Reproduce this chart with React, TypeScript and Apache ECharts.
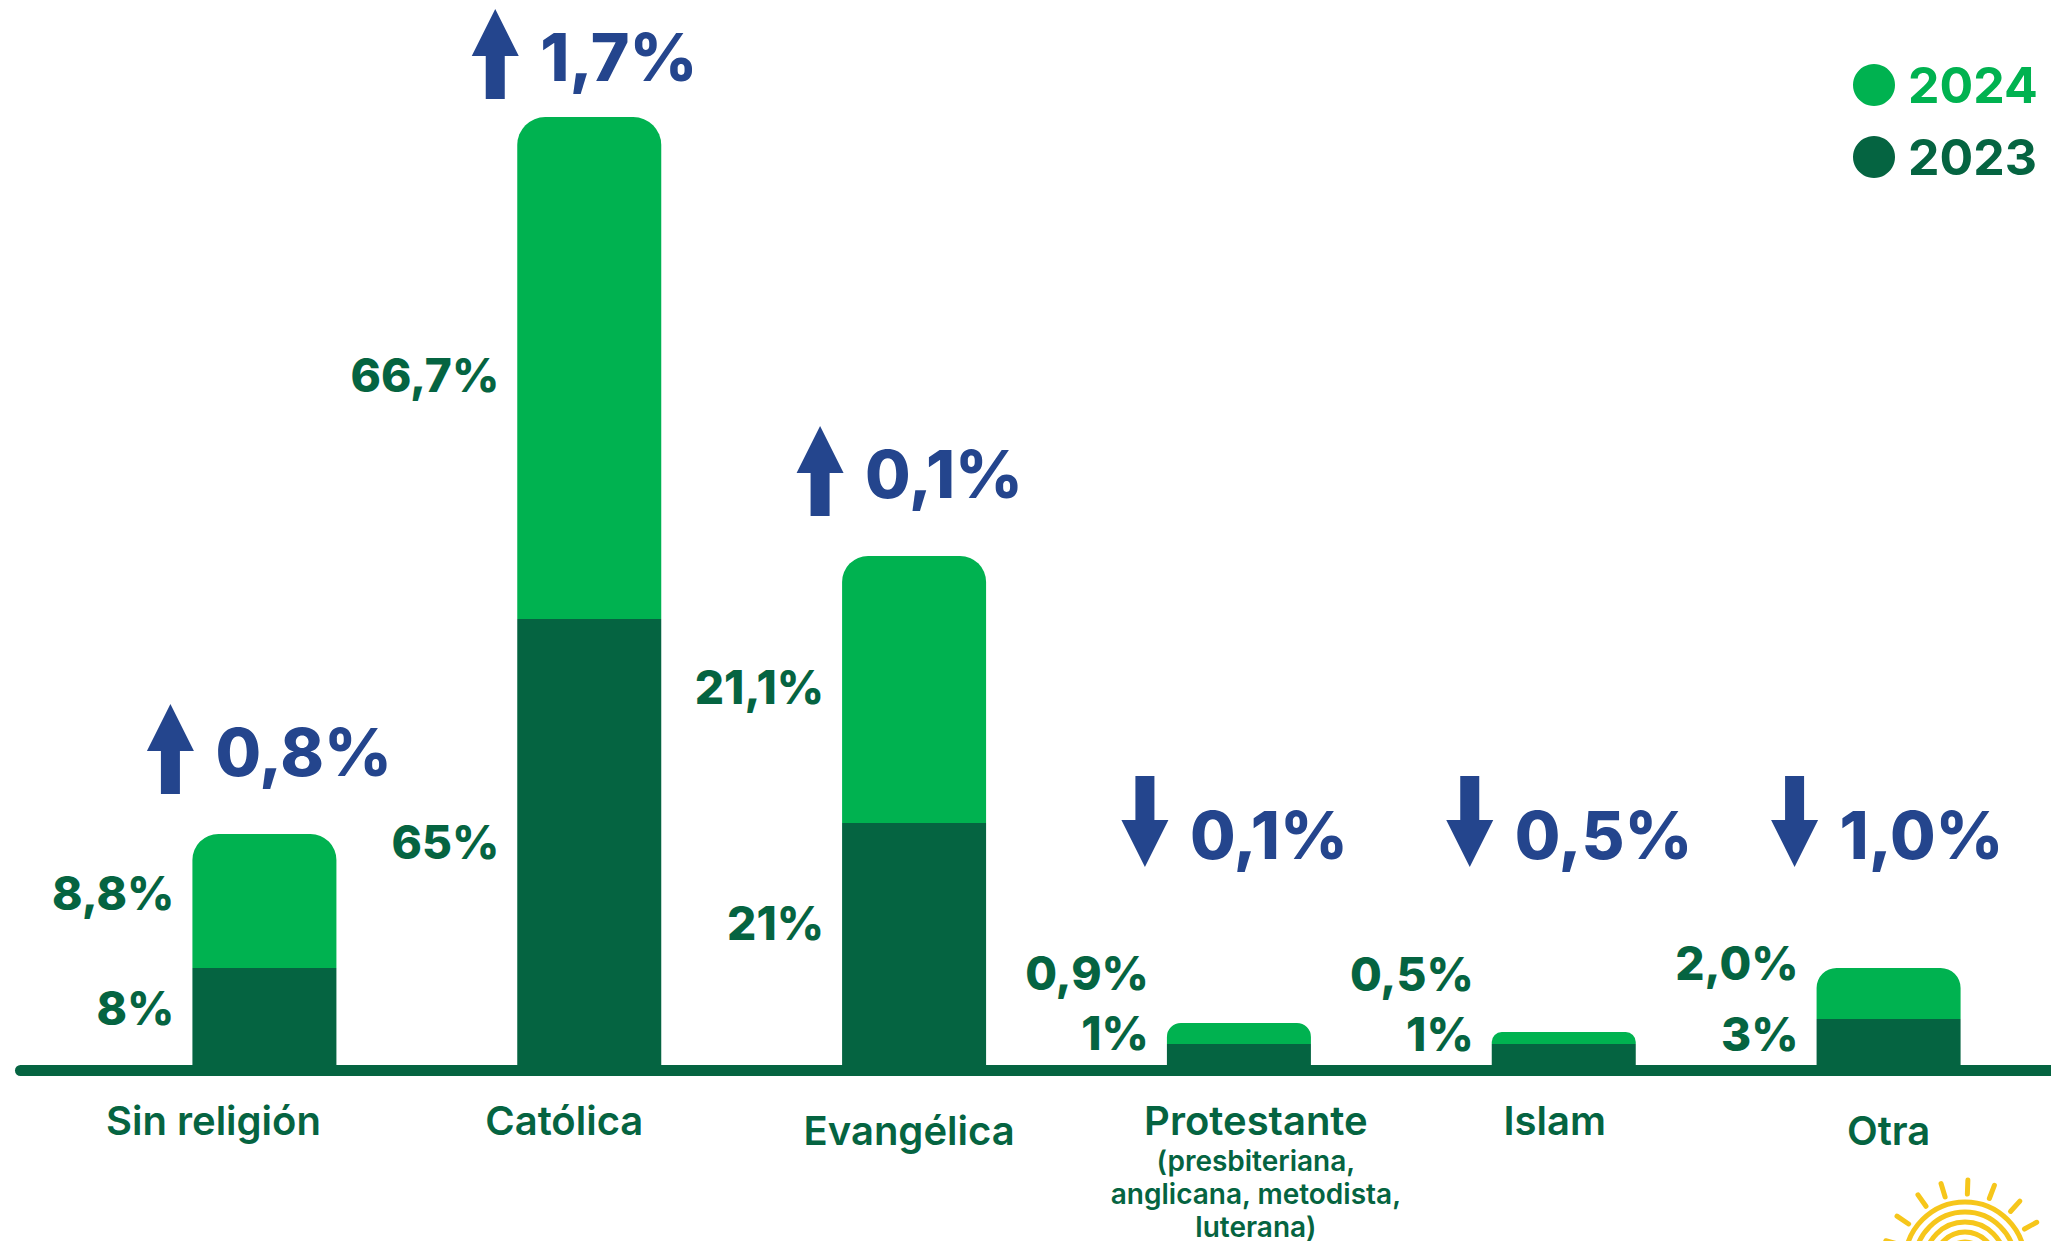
import React, { useEffect, useRef } from "react";
import * as echarts from "echarts";

// ---------- data ----------
const categories = ["Sin religión", "Católica", "Evangélica", "Protestante", "Islam", "Otra"];
const share2024 = ["8,8%", "66,7%", "21,1%", "0,9%", "0,5%", "2,0%"];
const share2023 = ["8%", "65%", "21%", "1%", "1%", "3%"];
// change 2023 -> 2024, in percentage points (sign gives the arrow direction)
const change = [0.8, 1.7, 0.1, -0.1, -0.5, -1.0];
// The infographic does not draw its bars to scale: these are the heights of the
// drawn bars, in % of the plot height.
const drawnHeight2024 = [23.1, 94.8, 50.9, 4.2, 3.3, 9.7];
const drawnHeight2023 = [9.7, 44.6, 24.2, 2.1, 2.1, 4.6];
const protestanteNote = ["(presbiteriana,", "anglicana, metodista,", "luterana)"];

// ---------- styles ----------
const LIGHT = "#00B250";
const DARK = "#056441";
const BLUE = "#24458D";
const SUN = "#F6C61B";
const FONT = "Inter, 'Noto Sans', sans-serif";
const radius2024 = [26, 28, 26, 14, 10, 20];
const labelDy2024 = [-8, 7, -3, -61, -64, -31];
const labelDy2023 = [-9, 0, -21, -22, -21, -8];

const fmtChange = (v: number) => Math.abs(v).toFixed(1).replace(".", ",") + "%";

export default function App() {
  const ref = useRef<HTMLDivElement>(null);

  useEffect(() => {
    if (!ref.current) return;
    const chart = echarts.init(ref.current, undefined, { renderer: "svg" });

    const mainLabel = (extra: any) => ({
      fontSize: 40,
      fontWeight: 600,
      fontFamily: FONT,
      color: DARK,
      lineHeight: 48,
      align: "center",
      ...extra,
    });

    const sunCx = 1965;
    const sunCy = 1262;
    const sunArcs = [60, 50, 40, 30, 20].map((r) => ({
      type: "arc",
      shape: { cx: sunCx, cy: sunCy, r, startAngle: Math.PI, endAngle: 2 * Math.PI },
      style: { stroke: SUN, lineWidth: 5, fill: "none" },
      silent: true,
    }));
    const sunRays = [10, 29, 48, 69, 88, 107, 125, 146, 165].map((deg) => {
      const a = (deg * Math.PI) / 180;
      return {
        type: "line",
        shape: {
          x1: sunCx + 68 * Math.cos(a),
          y1: sunCy - 68 * Math.sin(a),
          x2: sunCx + 82 * Math.cos(a),
          y2: sunCy - 82 * Math.sin(a),
        },
        style: { stroke: SUN, lineWidth: 5, lineCap: "round" },
        silent: true,
      };
    });

    const option: any = {
      animation: false,
      backgroundColor: "#ffffff",
      grid: { left: 102, top: 65, width: 1956, height: 1000 },
      legend: {
        orient: "vertical",
        left: 1848,
        top: 55,
        icon: "circle",
        itemWidth: 42,
        itemHeight: 42,
        itemGap: 22,
        selectedMode: false,
        textStyle: {
          fontSize: 50,
          fontWeight: 700,
          fontFamily: FONT,
          padding: [0, 0, 0, 8],
        },
        data: [
          { name: "2024", textStyle: { color: LIGHT } },
          { name: "2023", textStyle: { color: DARK } },
        ],
      },
      xAxis: {
        type: "category",
        data: categories,
        axisLine: { show: false },
        axisTick: { show: false },
        axisLabel: {
          interval: 0,
          margin: 31,
          formatter: (value: string, idx: number) => {
            if (idx === 3) {
              return `{c3|${value}}\n` + protestanteNote.map((l) => `{n|${l}}`).join("\n");
            }
            return `{c${idx}|${value}}`;
          },
          rich: {
            c0: mainLabel({ padding: [0, 102, 0, 0] }),
            c1: mainLabel({ padding: [0, 50, 0, 0] }),
            c2: mainLabel({ lineHeight: 68, padding: [0, 10, 0, 0] }),
            c3: mainLabel({ padding: [0, 0, 0, 34] }),
            c4: mainLabel({ padding: [0, 18, 0, 0] }),
            c5: mainLabel({ lineHeight: 68 }),
            n: {
              fontSize: 28,
              fontWeight: 600,
              fontFamily: FONT,
              color: DARK,
              lineHeight: 33,
              align: "center",
              padding: [0, 0, 0, 34],
            },
          },
        },
      },
      yAxis: { type: "value", min: 0, max: 100, show: false, splitLine: { show: false } },
      series: [
        {
          name: "2023",
          type: "bar",
          stack: "s",
          barWidth: 144,
          itemStyle: { color: DARK },
          data: drawnHeight2023.map((v, i) => ({
            value: v,
            label: { offset: [0, labelDy2023[i]] },
          })),
          label: {
            show: true,
            position: "left",
            distance: 18,
            formatter: (p: any) => share2023[p.dataIndex],
            fontSize: 46,
            fontWeight: 800,
            fontFamily: FONT,
            color: DARK,
          },
        },
        {
          name: "2024",
          type: "bar",
          stack: "s",
          barWidth: 144,
          itemStyle: { color: LIGHT },
          data: drawnHeight2024.map((v, i) => ({
            value: +(v - drawnHeight2023[i]).toFixed(2),
            itemStyle: { borderRadius: [radius2024[i], radius2024[i], 0, 0] },
            label: { offset: [0, labelDy2024[i]] },
          })),
          label: {
            show: true,
            position: "left",
            distance: 18,
            formatter: (p: any) => share2024[p.dataIndex],
            fontSize: 46,
            fontWeight: 800,
            fontFamily: FONT,
            color: DARK,
          },
        },
        {
          name: "change",
          type: "custom",
          silent: true,
          z: 5,
          data: change.map((v, i) => [i, drawnHeight2024[i], v]),
          renderItem: (params: any, api: any) => {
            const i = api.value(0);
            const top = api.coord([i, api.value(1)]);
            const base = api.coord([i, 0]);
            const v = api.value(2);
            const cx = top[0] - 94;
            let t: number, b: number;
            if (v > 0) {
              b = top[1] - 40;
              t = b - 90;
              if (t < 9) {
                t = 9;
                b = 99;
              }
            } else {
              t = base[1] - 289;
              b = t + 91;
            }
            const hw = 23.5, sw = 9.5, hh = 47;
            const pts =
              v > 0
                ? [
                    [cx, t],
                    [cx + hw, t + hh],
                    [cx + sw, t + hh],
                    [cx + sw, b],
                    [cx - sw, b],
                    [cx - sw, t + hh],
                    [cx - hw, t + hh],
                  ]
                : [
                    [cx - sw, t],
                    [cx + sw, t],
                    [cx + sw, b - hh],
                    [cx + hw, b - hh],
                    [cx, b],
                    [cx - hw, b - hh],
                    [cx - sw, b - hh],
                  ];
            return {
              type: "group",
              children: [
                { type: "polygon", shape: { points: pts }, style: { fill: BLUE } },
                {
                  type: "text",
                  x: cx + 45,
                  y: (t + b) / 2 + (v > 0 ? 3 : 13),
                  style: {
                    text: fmtChange(v),
                    fill: BLUE,
                    fontSize: 66,
                    fontWeight: 800,
                    fontFamily: FONT,
                    textAlign: "left",
                    textVerticalAlign: "middle",
                  },
                },
              ],
            };
          },
        },
      ],
      graphic: [
        {
          type: "line",
          shape: { x1: 20.5, y1: 1070.5, x2: 2060, y2: 1070.5 },
          style: { stroke: DARK, lineWidth: 11, lineCap: "round" },
          z: 10,
          silent: true,
        },
        ...sunArcs,
        ...sunRays,
      ],
    };

    chart.setOption(option);
    return () => chart.dispose();
  }, []);

  return (
    <div
      ref={ref}
      style={{ position: "fixed", left: 0, top: 0, width: 2051, height: 1241, background: "#fff" }}
    />
  );
}
